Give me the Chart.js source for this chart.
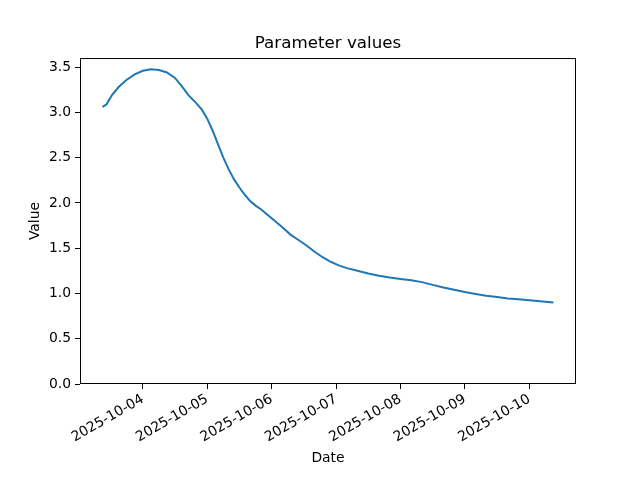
<!DOCTYPE html>
<html>
<head>
<meta charset="utf-8">
<script src="https://cdn.jsdelivr.net/npm/chart.js@4.4.1/dist/chart.umd.min.js"></script>
<style>
    html, body { margin: 0; padding: 0; background: #ffffff; }
    #chart { display: block; }
</style>
</head>
<body>
<canvas id="chart" width="640" height="480"></canvas>
<script>
// Hours relative to 2025-10-04 00:00
const hours = [
    -15, -13.5, -11.5, -9, -6, -3, 0, 3, 6, 9, 12, 14.5, 17, 20, 22, 24,
    26, 28, 30, 32, 34, 36, 38, 40, 42, 44, 46, 48, 50, 52, 55, 58,
    61, 64, 67, 70, 73, 76, 80, 84, 88, 92, 96, 100, 104, 108, 112, 116,
    120, 124, 128, 132, 136, 140, 144, 148, 153
];
const values = [
    3.06, 3.09, 3.19, 3.28, 3.36, 3.42, 3.46, 3.475, 3.467, 3.44, 3.38, 3.29, 3.19, 3.10, 3.03, 2.93,
    2.80, 2.65, 2.50, 2.37, 2.26, 2.17, 2.09, 2.02, 1.97, 1.93, 1.88, 1.83, 1.78, 1.73, 1.65, 1.59,
    1.53, 1.46, 1.40, 1.35, 1.31, 1.28, 1.25, 1.22, 1.195, 1.175, 1.16, 1.145, 1.125, 1.095, 1.065, 1.04,
    1.015, 0.995, 0.975, 0.96, 0.945, 0.935, 0.925, 0.915, 0.90
];
const dateTicks = [0, 24, 48, 72, 96, 120, 144];
const dateLabels = ['2025-10-04', '2025-10-05', '2025-10-06', '2025-10-07', '2025-10-08', '2025-10-09', '2025-10-10'];
const valueTicks = [0, 0.5, 1.0, 1.5, 2.0, 2.5, 3.0, 3.5];

const FONT = 'DejaVu Sans';
const TICK_SIZE = 13.9;

// matplotlib style margins: 5% of the data span on x
const span = hours[hours.length - 1] - hours[0];
const xMin = hours[0] - 0.05 * span;
const xMax = hours[hours.length - 1] + 0.05 * span;

// Draws the four axis spines round the plot area
const framePlugin = {
    id: 'frame',
    afterDraw(chart) {
        const {ctx, chartArea: a} = chart;
        ctx.save();
        ctx.strokeStyle = '#000000';
        ctx.lineWidth = 1;
        ctx.strokeRect(a.left + 0.5, a.top + 0.5, a.right - a.left - 1, a.bottom - a.top - 1);
        ctx.restore();
    }
};

const ctx = document.getElementById('chart').getContext('2d');
new Chart(ctx, {
    type: 'line',
    data: {
        datasets: [{
            data: hours.map((h, i) => ({x: h, y: values[i]})),
            borderColor: '#1f77b4',
            borderWidth: 2,
            pointRadius: 0,
            tension: 0,
            fill: false
        }]
    },
    options: {
        responsive: false,
        devicePixelRatio: 1,
        animation: false,
        layout: {
            // left padding keeps the title centred over the plot area
            padding: {left: 16, right: 0, top: 0, bottom: 0}
        },
        plugins: {
            legend: {display: false},
            tooltip: {enabled: false},
            title: {
                display: true,
                text: 'Parameter values',
                color: '#000000',
                font: {family: FONT, size: 16.7, weight: 'normal'},
                padding: {top: 34, bottom: 4}
            }
        },
        scales: {
            x: {
                type: 'linear',
                min: xMin,
                max: xMax,
                afterBuildTicks: scale => {
                    scale.ticks = dateTicks.map(v => ({value: v}));
                },
                afterFit: scale => {
                    scale.height = 96;
                },
                ticks: {
                    color: '#000000',
                    font: {family: FONT, size: TICK_SIZE},
                    minRotation: 30,
                    maxRotation: 30,
                    padding: 2,
                    callback: value => dateLabels[dateTicks.indexOf(value)]
                },
                grid: {
                    drawOnChartArea: false,
                    drawTicks: true,
                    tickLength: 5,
                    color: '#000000'
                },
                border: {display: false},
                title: {
                    display: true,
                    text: 'Date',
                    color: '#000000',
                    font: {family: FONT, size: TICK_SIZE},
                    padding: {top: 0, bottom: 13}
                }
            },
            y: {
                min: 0,
                max: 3.6,
                afterBuildTicks: scale => {
                    scale.ticks = valueTicks.map(v => ({value: v}));
                },
                afterFit: scale => {
                    scale.width = 64;
                },
                ticks: {
                    color: '#000000',
                    font: {family: FONT, size: TICK_SIZE},
                    padding: 4,
                    callback: value => value.toFixed(1)
                },
                grid: {
                    drawOnChartArea: false,
                    drawTicks: true,
                    tickLength: 5,
                    color: '#000000'
                },
                border: {display: false},
                title: {
                    display: true,
                    text: 'Value',
                    color: '#000000',
                    font: {family: FONT, size: TICK_SIZE},
                    padding: {top: 11, bottom: 0}
                }
            },
            // empty right axis that only keeps the right margin
            yRight: {
                position: 'right',
                min: 0,
                max: 3.6,
                afterFit: scale => {
                    scale.width = 64;
                },
                ticks: {display: false},
                grid: {display: false},
                border: {display: false}
            }
        }
    },
    plugins: [framePlugin]
});
</script>
</body>
</html>
